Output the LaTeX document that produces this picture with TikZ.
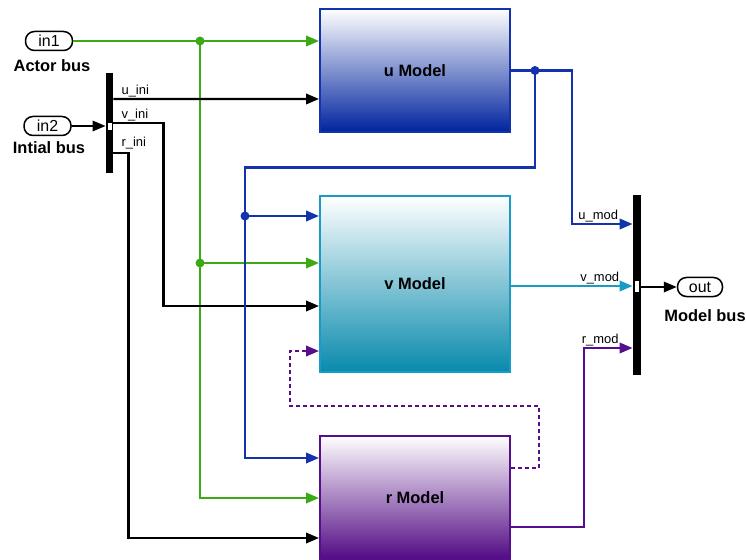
\documentclass[tikz,border=0pt]{standalone}
\usepackage{fontspec}
\setmainfont{Liberation Sans}
\usetikzlibrary{arrows.meta,calc}

\definecolor{sgreen}{RGB}{60,170,20}
\definecolor{sblue}{RGB}{20,50,170}
\definecolor{steal}{RGB}{25,155,200}
\definecolor{spurple}{RGB}{85,15,140}
\definecolor{ubot}{RGB}{0,35,158}
\definecolor{vbot}{RGB}{8,138,172}
\definecolor{rbot}{RGB}{82,10,132}

\tikzset{
	port/.style={draw, line width=1.5bp, rounded corners=9bp, minimum width=47bp, minimum height=19bp, inner sep=0pt, font=\fontsize{16}{18}\selectfont},
	model/.style={draw, line width=2bp, minimum width=190bp, inner sep=0pt, font=\bfseries\fontsize{16.5}{18}\selectfont},
	bar/.style={fill=black, minimum width=7.5bp, inner sep=0pt},
	marker/.style={draw=black, fill=white, line width=0.4bp, minimum width=5bp, minimum height=8bp, inner sep=0pt},
	title/.style={font=\bfseries\fontsize{16.5}{18}\selectfont},
	sig/.style={font=\fontsize{13}{15}\selectfont, inner sep=1bp, text=black},
	wire/.style={line width=2.2bp, ->},
	dot/.style={fill, line width=0pt}
}

\begin{document}
\begin{tikzpicture}[x=1bp, y=-1bp, >={Triangle[length=13bp,width=10.5bp]}]
	\useasboundingbox (0,0) rectangle (746,560);

	% inports, outport and buses
	\node[port] (in1) at (49,41) {in1};
	\node[title] (in1lab) at (52,66) {Actor bus};
	\node[port] (in2) at (47.5,126) {in2};
	\node[title] (in2lab) at (49,148) {Intial bus};
	\node[bar, minimum height=100bp] (busSel) at (109.5,123) {};
	\node[marker] (selPort) at (109.5,126) {};
	\node[bar, minimum height=180bp, minimum width=8.5bp] (mux) at (637,285) {};
	\node[marker, minimum height=12bp] (muxPort) at (637,286) {};
	\node[port, minimum width=45bp] (out) at (700,287) {out};
	\node[title] (outlab) at (705,316) {Model bus};

	% models
	\node[model, minimum height=123bp, draw=sblue, top color=white, bottom color=ubot] (uModel) at (415,70.5) {u Model};
	\node[model, minimum height=176bp, draw=steal, top color=white, bottom color=vbot] (vModel) at (415,284) {v Model};
	\node[model, minimum height=123bp, draw=spurple, top color=white, bottom color=rbot] (rModel) at (415,497.5) {r Model};

	% ports
	\coordinate (uIn2) at ($(uModel.west)+(0,28.5)$);
	\coordinate (vIn1) at ($(vModel.west)+(0,-68)$);
	\coordinate (vIn2) at ($(vModel.west)+(0,-21)$);
	\coordinate (vIn3) at ($(vModel.west)+(0,22)$);
	\coordinate (vIn4) at ($(vModel.west)+(0,67)$);
	\coordinate (rIn1) at ($(rModel.west)+(0,-39.5)$);
	\coordinate (rIn2) at ($(rModel.west)+(0,0.5)$);
	\coordinate (rIn3) at ($(rModel.west)+(0,40.5)$);
	\coordinate (rOut1) at ($(rModel.east)+(0,-29.5)$);
	\coordinate (rOut2) at ($(rModel.east)+(0,29.5)$);
	\coordinate (muxU) at ($(mux.west)+(0,-61)$);
	\coordinate (muxV) at ($(mux.west)+(0,1)$);
	\coordinate (muxR) at ($(mux.west)+(0,63)$);
	\coordinate (gJ) at (200,41);
	\coordinate (bJ) at ($(uModel.east)+(24,0)$);
	\coordinate (bJ2) at ($(vIn1)+(-74,0)$);

	% actor bus
	\draw[wire, sgreen] (in1) -- (in1 -| uModel.west);
	\draw[wire, sgreen] (gJ) |- (rIn2);
	\draw[wire, sgreen] (gJ |- vIn2) -- (vIn2);
	\fill[dot, sgreen] (gJ) circle (4.5);
	\fill[dot, sgreen] (gJ |- vIn2) circle (4.5);

	% initial bus
	\draw[wire, line width=1.8bp] (in2) -- (in2 -| busSel.west);
	\draw[wire] ($(busSel.east)+(0,-24)$) -- node[sig, pos=0, anchor=south west, xshift=6bp] {u\_ini} (uIn2);
	\draw[wire] (busSel.east) -- ++(50,0) node[sig, pos=0, anchor=south west, xshift=6bp] {v\_ini} |- (vIn3);
	\draw[wire] ($(busSel.east)+(0,30)$) -- ++(15,0) node[sig, pos=0, anchor=south west, xshift=6bp, yshift=2bp] {r\_ini} |- (rIn3);

	% u model output
	\draw[wire, sblue] (uModel.east) -- ++(61,0) |- node[sig, pos=0.75, anchor=south, xshift=-4bp] {u\_mod} (muxU);
	\draw[wire, sblue] (bJ) -- ++(0,97) -| ($(rIn1)+(-74,0)$) -- (rIn1);
	\draw[wire, sblue] (bJ2) -- (vIn1);
	\fill[dot, sblue] (bJ) circle (4.5);
	\fill[dot, sblue] (bJ2) circle (4.5);

	% v model output
	\draw[wire, steal] (vModel.east |- muxV) -- node[sig, pos=0.73, anchor=south] {v\_mod} (muxV);

	% r model outputs
	\draw[wire, spurple] (rOut2) -- ++(73,0) |- node[sig, pos=0.75, anchor=south, xshift=-8bp] {r\_mod} (muxR);
	\draw[wire, spurple, line width=2.2bp, dash pattern=on 4bp off 3bp] (rOut1) -- ++(28,0) -- ++(0,-62) -| ($(vIn4)+(-29,0)$) -- (vIn4);

	% out
	\draw[wire, line width=1.8bp] (mux.east |- out) -- (out.west);
\end{tikzpicture}
\end{document}
